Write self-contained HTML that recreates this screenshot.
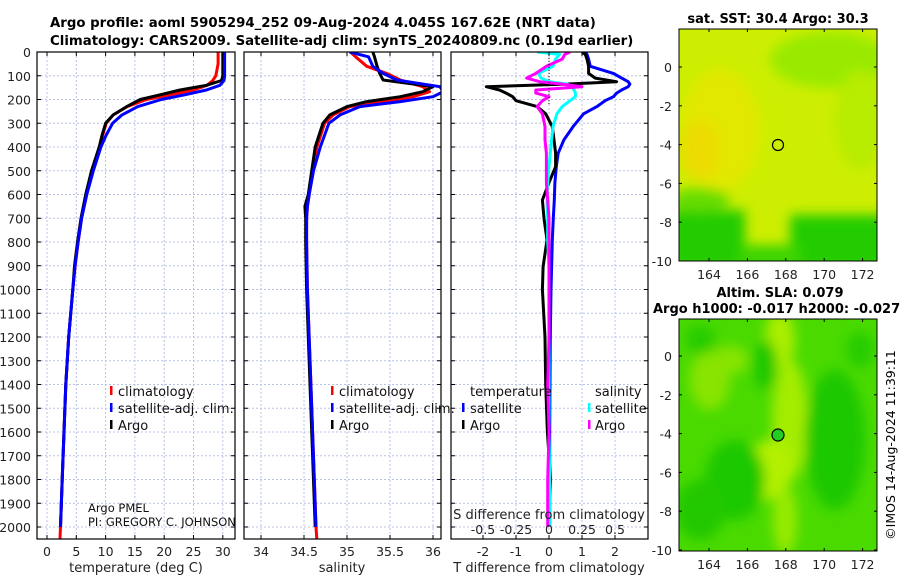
<!DOCTYPE html>
<html><head><meta charset="utf-8">
<style>
html,body{margin:0;padding:0;background:#fff;}
svg{display:block;font-family:"DejaVu Sans","Liberation Sans",sans-serif;}
</style></head>
<body>
<svg id="chart" width="900" height="580" viewBox="0 0 900 580" xmlns="http://www.w3.org/2000/svg">
<defs>
<clipPath id="c1"><rect x="37" y="52" width="198" height="487"/></clipPath>
<clipPath id="c2"><rect x="244" y="52" width="197" height="487"/></clipPath>
<clipPath id="c3"><rect x="451" y="52" width="197" height="487"/></clipPath>
<clipPath id="m1"><rect x="679" y="29" width="198" height="232"/></clipPath>
<clipPath id="m2"><rect x="679" y="319" width="198" height="232"/></clipPath>
<filter id="bl" x="-50%" y="-50%" width="200%" height="200%"><feGaussianBlur stdDeviation="6"/></filter>
</defs>
<g font-weight="bold" font-size="13.3" fill="#000">
<text x="50" y="27">Argo profile: aoml 5905294_252 09-Aug-2024 4.045S 167.62E (NRT data)</text>
<text x="50" y="45">Climatology: CARS2009. Satellite-adj clim: synTS_20240809.nc (0.19d earlier)</text>
</g>
<g id="grids"></g>
<g id="series"></g>
<g id="frames"></g>

<!-- maps -->
<g>
<g clip-path="url(#m1)">
<rect x="679" y="29" width="198" height="232" fill="#cdee00"/>
<g filter="url(#bl)">
<ellipse cx="830" cy="60" rx="60" ry="28" fill="#99ea00"/>
<ellipse cx="720" cy="130" rx="40" ry="60" fill="#e2e800"/>
<ellipse cx="700" cy="150" rx="20" ry="30" fill="#ecdc00"/>
<ellipse cx="860" cy="120" rx="25" ry="50" fill="#b8ec00"/>
<rect x="670" y="210" width="75" height="60" fill="#22cc00"/>
<rect x="790" y="215" width="100" height="55" fill="#22cc00"/>
<rect x="740" y="245" width="60" height="30" fill="#3ed400"/>
<ellipse cx="700" cy="200" rx="30" ry="12" fill="#66dc00"/>
</g>
</g>
<rect x="679" y="29" width="198" height="232" fill="none" stroke="#000" stroke-width="1"/>
<circle cx="778" cy="145" r="5.5" fill="none" stroke="#000" stroke-width="1.2"/>
<text x="778" y="23" text-anchor="middle" font-weight="bold" font-size="13">sat. SST: 30.4 Argo: 30.3</text>
</g>
<g>
<g clip-path="url(#m2)">
<rect x="679" y="319" width="198" height="232" fill="#4ada00"/>
<g filter="url(#bl)">
<ellipse cx="780" cy="340" rx="15" ry="30" fill="#aaee00"/>
<ellipse cx="790" cy="420" rx="18" ry="60" fill="#a4ec00"/>
<ellipse cx="770" cy="470" rx="22" ry="30" fill="#b4f000"/>
<ellipse cx="785" cy="520" rx="12" ry="35" fill="#99ea00"/>
<ellipse cx="710" cy="380" rx="20" ry="30" fill="#88e400"/>
<ellipse cx="730" cy="360" rx="18" ry="14" fill="#88e400"/>
<ellipse cx="700" cy="340" rx="15" ry="15" fill="#28cc00"/>
<ellipse cx="765" cy="365" rx="12" ry="25" fill="#1fc800"/>
<ellipse cx="735" cy="480" rx="30" ry="40" fill="#1fc800"/>
<ellipse cx="700" cy="510" rx="25" ry="30" fill="#22c800"/>
<ellipse cx="835" cy="440" rx="30" ry="70" fill="#1fc800"/>
<ellipse cx="860" cy="350" rx="14" ry="18" fill="#28cc00"/>
</g>
</g>
<rect x="679" y="319" width="198" height="232" fill="none" stroke="#000" stroke-width="1"/>
<circle cx="778" cy="435" r="6" fill="#22cc22" stroke="#000" stroke-width="1.2"/>
<text x="780" y="297" text-anchor="middle" font-weight="bold" font-size="13">Altim. SLA: 0.079</text>
<text x="653" y="313" font-weight="bold" font-size="13">Argo h1000: -0.017 h2000: -0.027</text>
</g>
<text transform="translate(895,445) rotate(-90)" text-anchor="middle" font-size="12.5">©IMOS 14-Aug-2024 11:39:11</text>
<g id="maplabels" font-size="12.5" fill="#222"></g>

<!-- legends -->
<g font-size="13" fill="#111">
<rect x="110" y="386" width="2.5" height="9" fill="#f00"/><text x="118" y="396">climatology</text>
<rect x="110" y="403" width="2.5" height="9" fill="#00f"/><text x="118" y="413">satellite-adj. clim.</text>
<rect x="110" y="420" width="2.5" height="9" fill="#000"/><text x="118" y="430">Argo</text>
</g>
<g font-size="11.5" fill="#111">
<text x="88" y="512">Argo PMEL</text><text x="88" y="526">PI: GREGORY C. JOHNSON</text>
</g>
<g font-size="13" fill="#111">
<rect x="331" y="386" width="2.5" height="9" fill="#f00"/><text x="339" y="396">climatology</text>
<rect x="331" y="403" width="2.5" height="9" fill="#00f"/><text x="339" y="413">satellite-adj. clim.</text>
<rect x="331" y="420" width="2.5" height="9" fill="#000"/><text x="339" y="430">Argo</text>
</g>
<g font-size="13" fill="#111">
<text x="470" y="396">temperature</text><text x="595" y="396">salinity</text>
<rect x="462" y="403" width="2.5" height="9" fill="#00f"/><text x="470" y="413">satellite</text>
<rect x="462" y="420" width="2.5" height="9" fill="#000"/><text x="470" y="430">Argo</text>
<rect x="588" y="403" width="2.5" height="9" fill="#0ff"/><text x="595" y="413">satellite</text>
<rect x="588" y="420" width="2.5" height="9" fill="#f0f"/><text x="595" y="430">Argo</text>
</g>
<g id="labels" font-size="12.5" fill="#222"></g>
</svg>
<script>
const depthTicks=[0,100,200,300,400,500,600,700,800,900,1000,1100,1200,1300,1400,1500,1600,1700,1800,1900,2000];
const tempTicks=[0,5,10,15,20,25,30];
const salTicks=[34,34.5,35,35.5,36];
const salTickLabels=["34","34.5","35","35.5","36"];
const tdiffTicks=[-2,-1,0,1,2];
const sdiffTicks=[-0.5,-0.25,0,0.25,0.5];
const sdiffTickLabels=["-0.5","-0.25","0","0.25","0.5"];
const latTicks=[0,-2,-4,-6,-8,-10];
const lonTicks=[164,166,168,170,172];

const tDepth=[0,50,100,120,140,160,180,200,230,265,300,350,400,500,600,700,800,900,1000,1200,1400,1600,1800,2000,2055];
const tArgo=[30.0,30.0,30.0,29.8,27.2,22.7,19.3,15.9,13.6,11.3,10.0,9.4,8.9,7.6,6.6,5.8,5.2,4.7,4.4,3.7,3.2,2.9,2.6,2.3,null];
const tClim=[29.2,29.2,28.8,28.3,27.3,25.0,21.0,17.0,13.7,11.3,10.1,9.5,9.0,7.7,6.7,5.9,5.3,4.8,4.4,3.7,3.2,2.9,2.6,2.3,2.2];
const tSat=[30.3,30.3,30.3,30.2,29.5,27.2,23.5,19.5,15.5,12.8,11.2,10.1,9.2,7.9,6.8,5.9,5.3,4.8,4.4,3.7,3.2,2.9,2.6,2.3,null];

const sDepth=[0,20,60,90,118,146,167,188,209,230,265,300,400,500,600,650,700,800,1000,1400,2000,2055];
const sArgo=[35.30,35.32,35.35,35.38,35.42,36.0,35.88,35.62,35.23,35.0,34.8,34.72,34.63,34.59,34.55,34.51,34.52,34.52,34.53,34.57,34.63,null];
const sClim=[35.04,35.10,35.23,35.46,35.62,35.88,35.96,35.77,35.42,35.03,34.84,34.74,34.65,34.60,34.56,34.54,34.53,34.53,34.54,34.58,34.64,34.65];
const sSat=[35.03,35.25,35.30,35.42,35.58,36.08,36.12,36.0,35.62,35.15,34.92,34.79,34.69,34.61,34.56,34.54,34.53,34.53,34.54,34.58,34.64,null];

const dDepth=[0,10,30,60,90,110,125,135,146,160,173,188,205,230,260,314,370,426,483,550,623,700,792,904,1000,1200,1400,1600,1800,2000];
const dTArgo=[1.0,1.1,1.15,1.2,1.2,1.4,2.05,0.5,-1.9,-1.5,-1.3,-1.1,-1.0,-0.36,-0.1,0.1,0.15,0.2,0.2,0.0,-0.2,-0.15,-0.06,-0.18,-0.2,-0.12,-0.1,-0.05,0.05,-0.03];
const dTSat=[1.1,1.15,1.2,1.25,1.95,2.2,2.4,2.45,2.4,2.2,2.05,1.95,1.7,1.45,1.05,0.73,0.45,0.28,0.22,0.18,0.16,0.13,0.1,0.08,0.06,0.04,0.03,0.02,0.02,0.02];
const dSSat=[-0.09,0.08,0.05,0.03,-0.08,-0.06,0.0,0.14,0.17,0.19,0.2,0.2,0.16,0.1,0.06,0.03,0.02,0.01,0.0,-0.01,-0.015,-0.01,-0.01,0,0,0,0,0,0.005,0.005];
const dSArgo=[0.16,0.12,0.1,-0.02,-0.1,-0.17,-0.07,0.1,0.25,-0.1,-0.1,0.0,-0.05,-0.09,-0.05,-0.03,-0.03,-0.02,-0.02,-0.02,-0.01,0,0,0,0,0,-0.01,0,-0.01,-0.01];

const NS="http://www.w3.org/2000/svg";
const TOP=52,BOT=539;
const yD=d=>TOP+d*0.2375;
const xT=t=>47+t*5.86;
const xS=s=>261+(s-34)*86;
const xDT=v=>549+v*33;
const xDS=v=>549+v*132;
const yLat=(la,base)=>base-la*19.4;
const xLon=lo=>709+(lo-164)*19.2;
const P=[{x0:37,x1:235,clip:"c1"},{x0:244,x1:441,clip:"c2"},{x0:451,x1:648,clip:"c3"}];
function mk(tag,attrs,parent){const e=document.createElementNS(NS,tag);for(const k in attrs)e.setAttribute(k,attrs[k]);parent.appendChild(e);return e;}
const grids=document.getElementById('grids'),frames=document.getElementById('frames'),series=document.getElementById('series'),labels=document.getElementById('labels'),maplabels=document.getElementById('maplabels');
const xTickSets=[tempTicks.map(xT),salTicks.map(xS),tdiffTicks.map(xDT)];
P.forEach((p,i)=>{
  depthTicks.forEach(d=>{if(d===0)return;
    const l=mk('line',{x1:p.x0,x2:p.x1,y1:yD(d),y2:yD(d),stroke:'#b8c2e6','stroke-width':1,'stroke-dasharray':'2,2'},grids);
    
    
    mk('line',{x1:p.x0,x2:p.x0+4,y1:yD(d),y2:yD(d),stroke:'#000'},frames);
    mk('line',{x1:p.x1-4,x2:p.x1,y1:yD(d),y2:yD(d),stroke:'#000'},frames);
  });
  xTickSets[i].forEach(x=>{
    const l=mk('line',{x1:x,x2:x,y1:TOP,y2:BOT,stroke:'#b8c2e6','stroke-width':1,'stroke-dasharray':'2,2'},grids);
    
    
    mk('line',{x1:x,x2:x,y1:BOT-4,y2:BOT,stroke:'#000'},frames);
    mk('line',{x1:x,x2:x,y1:TOP,y2:TOP+4,stroke:'#000'},frames);
  });
  const r=mk('rect',{x:p.x0,y:TOP,width:p.x1-p.x0,height:BOT-TOP,fill:'none',stroke:'#000','stroke-width':1.2},frames);
  
  
});
sdiffTicks.forEach(v=>{mk('line',{x1:xDS(v),x2:xDS(v),y1:BOT-4,y2:BOT,stroke:'#000'},frames);});
mk('line',{x1:549,x2:549,y1:TOP,y2:yD(220),stroke:'#000','stroke-dasharray':'1,2'},frames);

function line(depths,vals,xf,color,clip,name,w){
  let d="";let pen=false;
  depths.forEach((dp,i)=>{const v=vals[i];if(v===null){pen=false;return;}d+=(pen?"L":"M")+xf(v).toFixed(1)+","+yD(dp).toFixed(1);pen=true;});
  const e=mk('path',{d:d,fill:'none',stroke:color,'stroke-width':w||3,'stroke-linejoin':'round','clip-path':'url(#'+clip+')'},series);
  
  
}
line(tDepth,tClim,xT,'#f00','c1','temperature-climatology-line');
line(tDepth,tArgo,xT,'#000','c1','temperature-argo-line');
line(tDepth,tSat,xT,'#00f','c1','temperature-satellite-line');
line(sDepth,sClim,xS,'#f00','c2','salinity-climatology-line');
line(sDepth,sArgo,xS,'#000','c2','salinity-argo-line');
line(sDepth,sSat,xS,'#00f','c2','salinity-satellite-line');
line(dDepth,dTSat,xDT,'#00f','c3','tdiff-satellite-line');
line(dDepth,dTArgo,xDT,'#000','c3','tdiff-argo-line');
line(dDepth,dSSat,xDS,'#0ff','c3','sdiff-satellite-line');
line(dDepth,dSArgo,xDS,'#f0f','c3','sdiff-argo-line');

function txt(x,y,s,anchor,parent,name,size){const t=mk('text',{x:x,y:y,'text-anchor':anchor||'middle'},parent);if(size)t.setAttribute('font-size',size);t.textContent=s;return t;}
depthTicks.forEach(d=>txt(31,yD(d)+5,String(d),'end',labels,'depth-tick-label'));
tempTicks.forEach(t=>txt(xT(t),556,String(t),'middle',labels,'temperature-tick-label'));
salTicks.forEach((s,i)=>txt(xS(s),556,salTickLabels[i],'middle',labels,'salinity-tick-label'));
tdiffTicks.forEach(v=>txt(xDT(v),556,String(v),'middle',labels,'tdiff-tick-label'));
sdiffTicks.forEach((v,i)=>txt(xDS(v),534,sdiffTickLabels[i],'middle',labels,'sdiff-tick-label'));
txt(136,572,'temperature (deg C)','middle',labels,'temperature-axis-title',13);
txt(342,572,'salinity','middle',labels,'salinity-axis-title',13);
txt(549,572,'T difference from climatology','middle',labels,'tdiff-axis-title',13);
txt(549,519,'S difference from climatology','middle',labels,'sdiff-axis-title',13);
[[67,29,261],[356,319,551]].forEach(([base,t0,t1])=>{
  latTicks.forEach(la=>{const y=yLat(la,base);txt(672,y+5,String(la),'end',maplabels,'latitude-tick-label');
    mk('line',{x1:679,x2:682,y1:y,y2:y,stroke:'#000'},maplabels);mk('line',{x1:874,x2:877,y1:y,y2:y,stroke:'#000'},maplabels);});
  lonTicks.forEach(lo=>{const x=xLon(lo);txt(x,t1+18,String(lo),'middle',maplabels,'longitude-tick-label');
    mk('line',{x1:x,x2:x,y1:t1-3,y2:t1,stroke:'#000'},maplabels);mk('line',{x1:x,x2:x,y1:t0,y2:t0+3,stroke:'#000'},maplabels);});
});
</script>
</body></html>
